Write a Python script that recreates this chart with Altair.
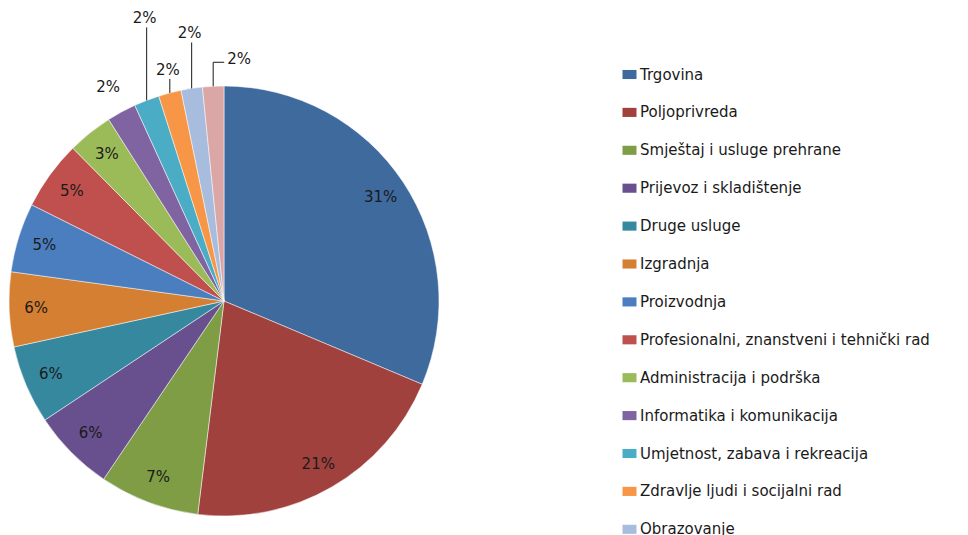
import altair as alt
import pandas as pd
import numpy as np

# ---- data ----
sectors = [
    "Trgovina",
    "Poljoprivreda",
    "Smještaj i usluge prehrane",
    "Prijevoz i skladištenje",
    "Druge usluge",
    "Izgradnja",
    "Proizvodnja",
    "Profesionalni, znanstveni i tehnički rad",
    "Administracija i podrška",
    "Informatika i komunikacija",
    "Umjetnost, zabava i rekreacija",
    "Zdravlje ljudi i socijalni rad",
    "Obrazovanje",
    "Ostale djelatnosti",
]
values = [31.3, 20.6, 7.5, 6.2, 5.9, 5.6, 5.2, 5.2, 3.4, 2.2, 1.9, 1.7, 1.6, 1.6]
pct_labels = ["31%", "21%", "7%", "6%", "6%", "6%", "5%", "5%", "3%", "2%", "2%", "2%", "2%", "2%"]
legend_shown = sectors[:13]

# ---- style / layout ----
colors = ["#3F6A9E", "#A0413E", "#7E9D45", "#67508D", "#36889F", "#D57F33",
          "#4A7EBF", "#C0504D", "#9BBB59", "#8064A2", "#4BACC6", "#F79646",
          "#A8BCDE", "#DBA7A6"]
CX, CY, R = 216, 293, 215
LABEL_R_IN = 188
LABEL_R_OUT = 243
label_style = ["in"] * 9 + ["out"] + ["lead", "lead", "lead", "elbow"]
lead_len = [0] * 10 + [73, 14, 46, 24]
ELBOW = 11
FONT = "DejaVu Sans"

df = pd.DataFrame({"sector": sectors, "value": values, "label": pct_labels,
                   "order": list(range(len(sectors)))})

# label geometry derived from the slice angles
total = df["value"].sum()
mid = 2 * np.pi * (df["value"].cumsum() - df["value"] / 2) / total
ex = CX + R * np.sin(mid)
ey = CY - R * np.cos(mid)
lx, ly, segs = [], [], []
for i, st in enumerate(label_style):
    if st == "in":
        lx.append(CX + LABEL_R_IN * np.sin(mid[i]))
        ly.append(CY - LABEL_R_IN * np.cos(mid[i]))
    elif st == "out":
        lx.append(CX + LABEL_R_OUT * np.sin(mid[i]))
        ly.append(CY - LABEL_R_OUT * np.cos(mid[i]))
    elif st == "lead":
        top = ey[i] - lead_len[i]
        segs.append((ex[i], ey[i], ex[i], top))
        lx.append(ex[i] - 2)
        ly.append(top - 9)
    else:  # elbow
        top = ey[i] - lead_len[i]
        segs.append((ex[i], ey[i], ex[i], top))
        segs.append((ex[i], top, ex[i] + ELBOW, top))
        lx.append(ex[i] + ELBOW + 15)
        ly.append(top - 3)
df["lx"] = lx
df["ly"] = ly
seg_df = pd.DataFrame(segs, columns=["x1", "y1", "x2", "y2"])

pie = alt.Chart(df).mark_arc(radius=R, stroke="#ffffff", strokeWidth=0.5).encode(
    theta=alt.Theta("value:Q", stack=True),
    order=alt.Order("order:Q"),
    color=alt.Color(
        "sector:N",
        scale=alt.Scale(domain=sectors, range=colors),
        legend=alt.Legend(
            title=None,
            orient="none",
            legendX=614,
            legendY=59,
            values=legend_shown,
            symbolType="M-1,-0.65H1V0.65H-1Z",
            symbolSize=196,
            symbolStrokeWidth=0,
            symbolOpacity=1,
            labelFont=FONT,
            labelFontSize=15,
            labelColor="#1a1a1a",
            labelLimit=400,
            labelOffset=3,
            rowPadding=21.9,
            padding=0,
        ),
    ),
    x=alt.value(CX),
    y=alt.value(CY),
)

text = alt.Chart(df).mark_text(font=FONT, fontSize=15, color="#1a1a1a",
                               align="center", baseline="middle").encode(
    x=alt.X("lx:Q", scale=None),
    y=alt.Y("ly:Q", scale=None),
    text="label:N",
)

leaders = alt.Chart(seg_df).mark_rule(color="#1a1a1a", strokeWidth=1).encode(
    x=alt.X("x1:Q", scale=None),
    y=alt.Y("y1:Q", scale=None),
    x2="x2:Q",
    y2="y2:Q",
)

chart = alt.layer(pie, leaders, text).properties(
    width=952, height=527, padding=0, autosize="none"
).configure_view(stroke=None)

chart.save("out.html", embed_options={"renderer": "svg", "actions": False})
